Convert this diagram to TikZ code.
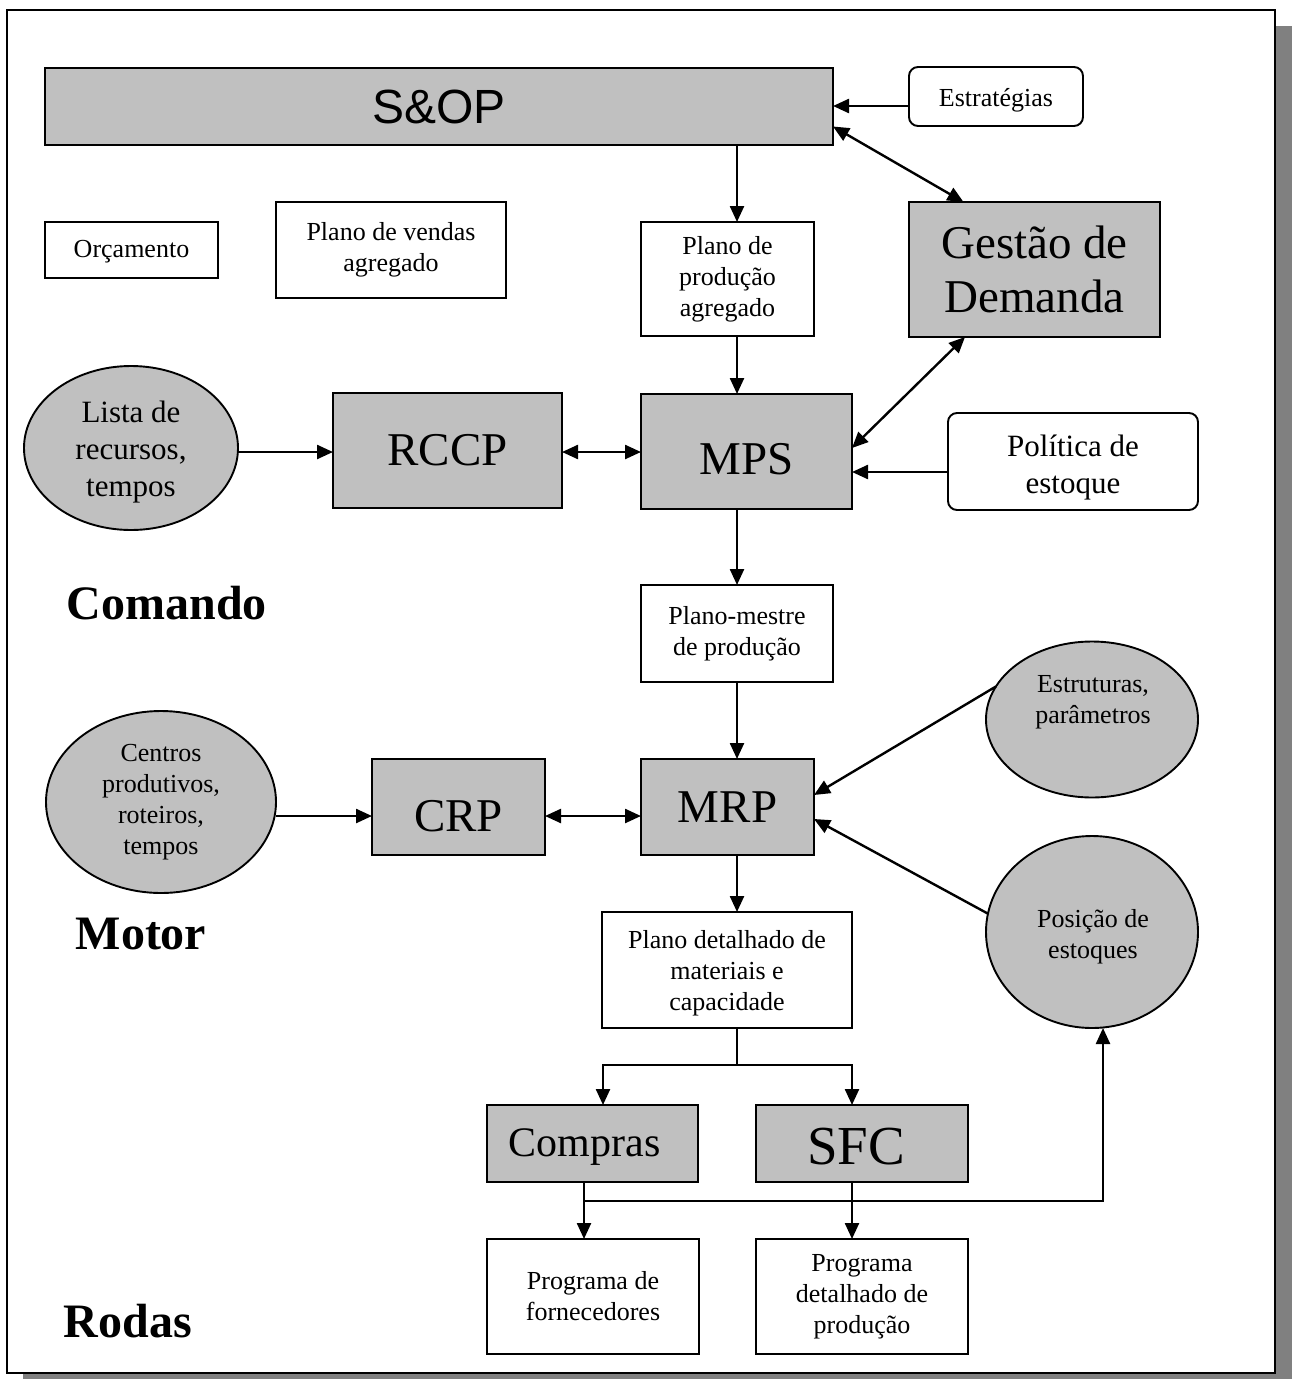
\documentclass[tikz,border=0pt]{standalone}
\usepackage{fontspec}
\setmainfont{Liberation Serif}
\newfontfamily\arialfont{Liberation Sans}
\usetikzlibrary{shapes.geometric,arrows.meta,calc}
\definecolor{boxgray}{RGB}{192,192,192}
\definecolor{shadowgray}{RGB}{128,128,128}
% move a label down without changing the size TikZ sees
\newcommand\dropby[2]{\raisebox{-#1}[\height][\depth]{#2}}
\begin{document}
\begin{tikzpicture}[x=1pt,y=-1pt,
  box/.style={draw=black,line width=1.9pt,inner sep=0pt,outer sep=0pt,align=center},
  graybox/.style={box,fill=boxgray},
  whitebox/.style={box,fill=white},
  roundbox/.style={box,fill=white,rounded corners=9pt},
  oval/.style={ellipse,draw=black,line width=1.9pt,fill=boxgray,inner sep=0pt,outer sep=0pt,align=center},
  small/.style={font=\fontsize{26}{31}\selectfont},
  mid/.style={font=\fontsize{31}{37}\selectfont},
  big/.style={font=\fontsize{47}{54}\selectfont},
  title/.style={font=\bfseries\fontsize{48}{54}\selectfont,inner sep=0pt},
  arr/.style={line width=2.4pt,-{Triangle[length=16pt,width=14pt]}},
  dbl/.style={line width=2.4pt,{Triangle[length=16pt,width=14pt]}-{Triangle[length=16pt,width=14pt]}},
  plain/.style={line width=2.4pt}]
\useasboundingbox (0,0) rectangle (1292,1379);

% page frame with drop shadow
\fill[shadowgray] (23,26) rectangle (1292,1379);
\draw[line width=2.4pt,fill=white] (7,10) rectangle (1275,1373);

% boxes
\node[graybox,minimum width=788pt,minimum height=77pt,font=\arialfont\fontsize{48}{54}\selectfont] (sop) at (439,106.5) {S\&OP};
\node[roundbox,small,minimum width=174pt,minimum height=59pt] (estrat) at (996,96.5) {\dropby{4pt}{Estratégias}};
\node[graybox,big,minimum width=251pt,minimum height=135pt] (gest) at (1034.5,269.5) {Gestão de\\Demanda};
\node[whitebox,small,minimum width=173pt,minimum height=56pt] (orc) at (131.5,250) {\dropby{2pt}{Orçamento}};
\node[whitebox,small,minimum width=230pt,minimum height=96pt] (pvend) at (391,250) {Plano de vendas\\agregado};
\node[whitebox,small,minimum width=173pt,minimum height=114pt] (pprod) at (727.5,279) {Plano de\\produção\\agregado};
\node[graybox,big,minimum width=229pt,minimum height=115pt] (rccp) at (447.5,450.5) {RCCP};
\node[graybox,big,minimum width=211pt,minimum height=115pt] (mps) at (746.5,451.5) {\dropby{8pt}{MPS}};
\node[roundbox,minimum width=250pt,minimum height=97pt] (pol) at (1073,461.5) {};
\node[mid,align=center] (poltxt) at (1073,468) {Política de\\estoque};
\node[whitebox,small,minimum width=192pt,minimum height=97pt] (pmestre) at (737,633.5) {Plano-mestre\\de produção};
\node[graybox,big,minimum width=173pt,minimum height=96pt] (crp) at (458.5,807) {\dropby{9pt}{CRP}};
\node[graybox,big,minimum width=173pt,minimum height=96pt] (mrp) at (727.5,807) {MRP};
\node[whitebox,small,minimum width=250pt,minimum height=116pt] (pdet) at (727,970) {};
\node[small,align=center] (pdettxt) at (727,973) {Plano detalhado de\\materiais e\\capacidade};
\node[graybox,font=\fontsize{42}{48}\selectfont,minimum width=211pt,minimum height=77pt] (compras) at (592.5,1143.5) {\hspace*{-16pt}\dropby{4pt}{Compras}};
\node[graybox,font=\fontsize{55}{60}\selectfont,minimum width=212pt,minimum height=77pt] (sfc) at (862,1143.5) {\hspace*{-12pt}\dropby{3pt}{SFC}};
\node[whitebox,small,minimum width=212pt,minimum height=115pt] (pforn) at (593,1296.5) {Programa de\\fornecedores};
\node[whitebox,small,minimum width=212pt,minimum height=115pt] (pdetprod) at (862,1296.5) {Programa\\detalhado de\\produção};

% ellipses
\node[oval,minimum width=214pt,minimum height=164pt] (lista) at (131,448) {};
\node[mid,align=center] (listatxt) at (131,452) {Lista de\\recursos,\\tempos};
\node[oval,small,minimum width=230pt,minimum height=182pt] (centros) at (161,802) {Centros\\produtivos,\\roteiros,\\tempos};
\node[oval,minimum width=212pt,minimum height=156pt] (estrut) at (1092,719.5) {};
\node[small,align=center] (estruttxt) at (1093,702) {Estruturas,\\parâmetros};
\node[oval,minimum width=212pt,minimum height=192pt] (pos) at (1092,932) {};
\node[small,align=center] (postxt) at (1093,937) {Posição de\\estoques};

% level titles
\node[title] (comando) at (167,603) {Comando};
\node[title] (motor) at (141,934) {Motor};
\node[title] (rodas) at (128,1321) {Rodas};

% helper coordinates
\coordinate (axis) at (737,0);
\coordinate (feedback) at (0,1201);
\coordinate (split) at (737,1065);
\coordinate (estratout) at ([yshift=-9.5pt]estrat.west);
\coordinate (sopright) at ([yshift=-20pt]sop.east);
\coordinate (gesttop) at ([xshift=-71pt]gest.north);
\coordinate (gestbot) at ([xshift=-69.5pt]gest.south);
\coordinate (mpsright) at ([yshift=3.5pt]mps.east);
\coordinate (polout) at ([yshift=-10.5pt]pol.west);
\coordinate (rccpin) at ([yshift=-1.5pt]rccp.west);
\coordinate (rccpout) at ([yshift=-1.5pt]rccp.east);
\coordinate (crpin) at ([yshift=-9pt]crp.west);
\coordinate (crpout) at ([yshift=-9pt]crp.east);
\coordinate (mrpup) at ([yshift=12pt]mrp.east);
\coordinate (mrpdown) at ([yshift=-12pt]mrp.east);
\coordinate (comprasout) at ([xshift=-8.5pt]compras.south);
\coordinate (sfcout) at ([xshift=-10pt]sfc.south);

% connectors
\draw[arr] (estratout) -- (estratout -| sop.east);
\draw[dbl] (sopright) -- (gesttop);
\draw[arr] (sop.south -| axis) -- (pprod.north -| axis);
\draw[arr] (pprod.south -| axis) -- (mps.north -| axis);
\draw[arr] (rccpin -| lista.east) -- (rccpin);
\draw[dbl] (rccpout) -- (rccpout -| mps.west);
\draw[dbl] (gestbot) -- (mpsright);
\draw[arr] (polout) -- (polout -| mps.east);
\draw[arr] (mps.south -| axis) -- (pmestre.north -| axis);
\draw[arr] (pmestre.south -| axis) -- (mrp.north -| axis);
\draw[arr] (crpin -| centros.east) -- (crpin);
\draw[dbl] (crpout) -- (crpout -| mrp.west);
\draw[arr] (estrut.161) -- (mrpup);
\draw[arr] (pos.170) -- (mrpdown);
\draw[arr] (mrp.south -| axis) -- (pdet.north -| axis);
\draw[plain] (pdet.south -| axis) -- (split);
\draw[arr] (split) -| ([xshift=10.5pt]compras.north);
\draw[arr] (split) -| ([xshift=-10pt]sfc.north);
\draw[arr] (comprasout) -- (comprasout |- pforn.north);
\draw[arr] (sfcout) -- (sfcout |- pdetprod.north);
\draw[arr] (comprasout |- feedback) -| ([xshift=11pt]pos.south);
\end{tikzpicture}
\end{document}
